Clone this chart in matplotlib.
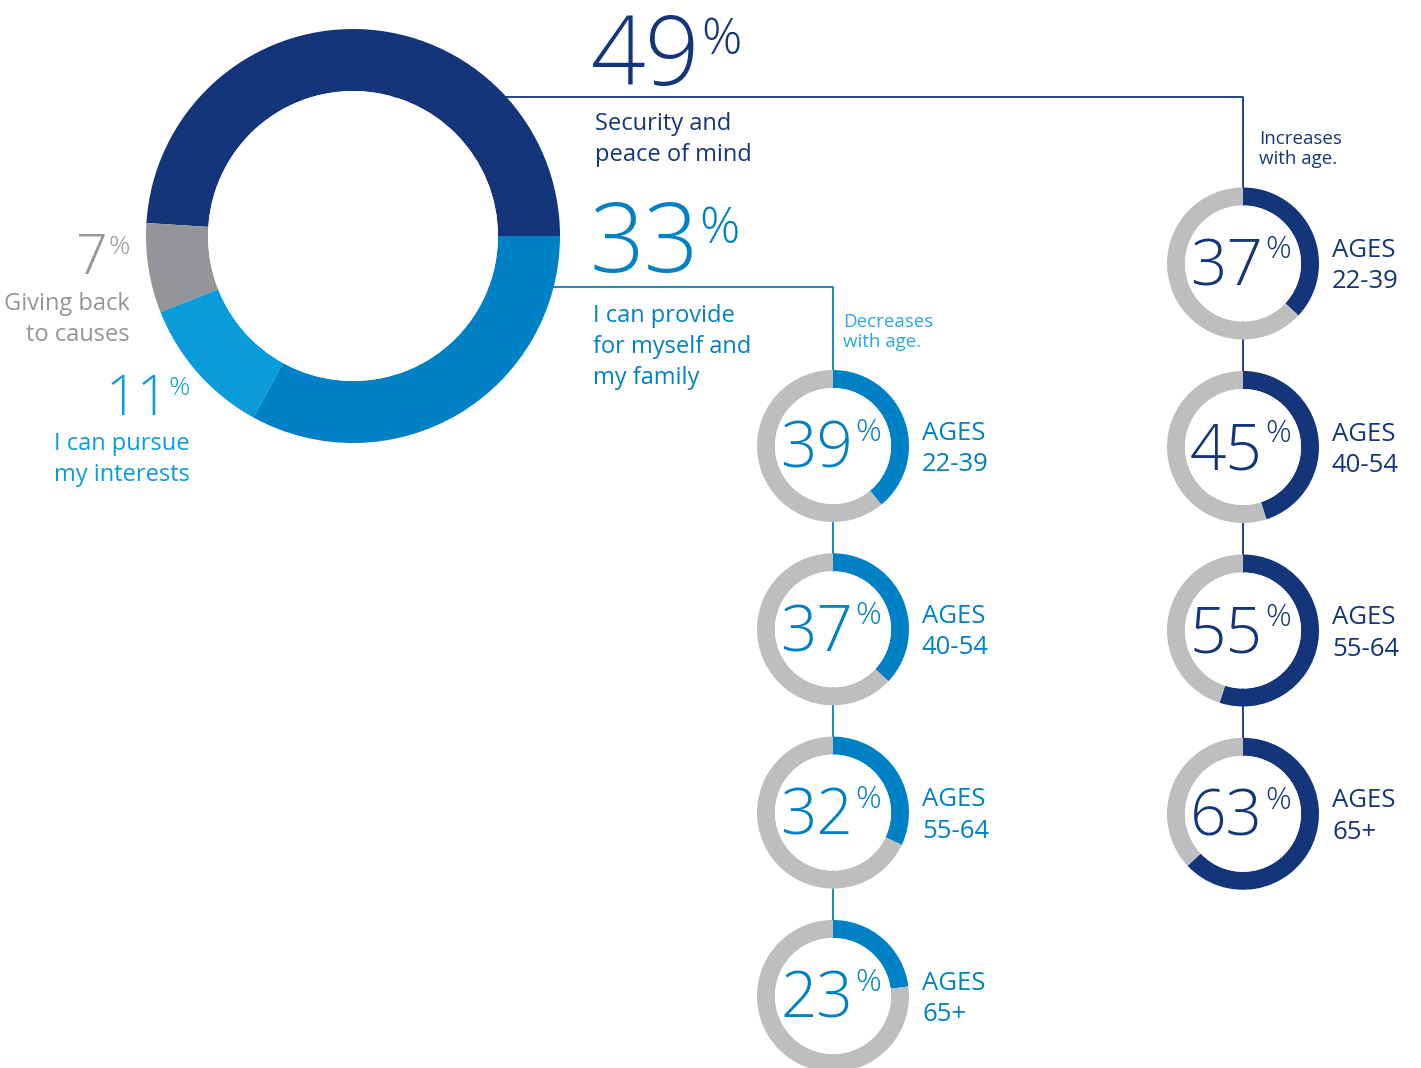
import matplotlib
matplotlib.use("Agg")
import matplotlib.pyplot as plt
from matplotlib.patches import Circle

plt.rcParams["font.family"] = ["Open Sans", "DejaVu Sans"]

# overall split of what people value most
main_values = [49, 7, 11, 33]
main_labels = ["Security and\npeace of mind", "Giving back\nto causes",
               "I can pursue\nmy interests", "I can provide\nfor myself and\nmy family"]

# breakdown by age group
age_groups = ["22-39", "40-54", "55-64", "65+"]
provide_by_age = [39, 37, 32, 23]
security_by_age = [37, 45, 55, 63]

NAVY = "#14357A"
BLUE = "#0081C6"
LIGHT = "#0A9CDA"
GREY = "#939598"
RING = "#BCBEC0"
TREND_BLUE = "#2AA8E0"

W, H = 1421, 1068
fig = plt.figure(figsize=(W / 100, H / 100), dpi=100)
ax = fig.add_axes([0, 0, 1, 1])

# ── main donut ───────────────────────────────────────────────────────────────
mx, my, mr, mw = 353, 236, 207, 62
ax.pie(main_values, colors=[NAVY, GREY, LIGHT, BLUE], startangle=0,
       counterclock=False, center=(mx, my), radius=mr,
       wedgeprops=dict(width=mw, linewidth=0, zorder=2))
ax.add_patch(Circle((mx, my), mr - mw, facecolor="white", edgecolor="none", zorder=3))

# ── connector lines ──────────────────────────────────────────────────────────
lx, rx = 833, 1243
col_y_left = [446, 629.3, 812.6, 996]
col_y_right = [263.5, 447, 630.5, 813.8]
ax.plot([mx, rx, rx], [97, 97, col_y_right[-1]], color=NAVY, lw=1.3, zorder=1)
ax.plot([mx, lx, lx], [287, 287, col_y_left[-1]], color=BLUE, lw=1.3, zorder=1)

# ── big percentages and labels ───────────────────────────────────────────────
def big_pct(x, y, val, color, size, psize, dy_pct, gap=4):
    ax.text(x, y, f"{val}", color=color, fontsize=size, fontweight="light",
            ha="right", va="baseline", zorder=4)
    ax.text(x + gap, y - dy_pct, "%", color=color, fontsize=psize, fontweight="light",
            ha="left", va="top", zorder=4)

big_pct(701, 85, main_values[0], NAVY, 69, 36, 69, 0)
big_pct(699, 272, main_values[3], BLUE, 69, 36, 67, 0)
big_pct(108, 274, main_values[1], GREY, 40, 19, 39, 0)
big_pct(169, 415, main_values[2], LIGHT, 40, 19, 39, -1)

# multi-line labels are anchored at the baseline of their last line
ax.text(595, 161, main_labels[0], color=NAVY, fontsize=17, ha="left",
        va="baseline", linespacing=1.38, zorder=4)
ax.text(593, 384, main_labels[3], color=BLUE, fontsize=17, ha="left",
        va="baseline", linespacing=1.38, zorder=4)
ax.text(130, 341, main_labels[1], color=GREY, fontsize=17, ha="right",
        va="baseline", linespacing=1.38, multialignment="right", zorder=4)
ax.text(190, 481, main_labels[2], color=LIGHT, fontsize=17, ha="right",
        va="baseline", linespacing=1.38, multialignment="right", zorder=4)

ax.text(843, 347, "Decreases\nwith age.", color=TREND_BLUE, fontsize=13.5,
        ha="left", va="baseline", linespacing=1.15, zorder=4)
ax.text(1259, 164, "Increases\nwith age.", color=NAVY, fontsize=13.5,
        ha="left", va="baseline", linespacing=1.15, zorder=4)

# ── age group donuts ─────────────────────────────────────────────────────────
sr, sw = 76, 18

def age_column(cx, ys, values, color):
    for cy, val, grp in zip(ys, values, age_groups):
        ax.pie([val, 100 - val], colors=[color, RING], startangle=270,
               counterclock=True, center=(cx, cy), radius=sr,
               wedgeprops=dict(width=sw, linewidth=0, zorder=2))
        ax.add_patch(Circle((cx, cy), sr - sw, facecolor="white",
                            edgecolor="none", zorder=3))
        ax.text(cx + 20, cy + 22, f"{val}", color=color, fontsize=46,
                fontweight="light", ha="right", va="baseline", zorder=4)
        ax.text(cx + 22, cy - 29, "%", color=color, fontsize=23,
                fontweight="light", ha="left", va="top", zorder=4)
        ax.text(cx + 89, cy + 25, f"AGES\n{grp}", color=color, fontsize=18.5,
                ha="left", va="baseline", linespacing=1.34, zorder=4)

age_column(lx, col_y_left, provide_by_age, BLUE)
age_column(rx, col_y_right, security_by_age, NAVY)

ax.set_xlim(0, W)
ax.set_ylim(H, 0)
ax.set_aspect("equal")
ax.axis("off")

fig.savefig("out.png", dpi=100, facecolor="white")
